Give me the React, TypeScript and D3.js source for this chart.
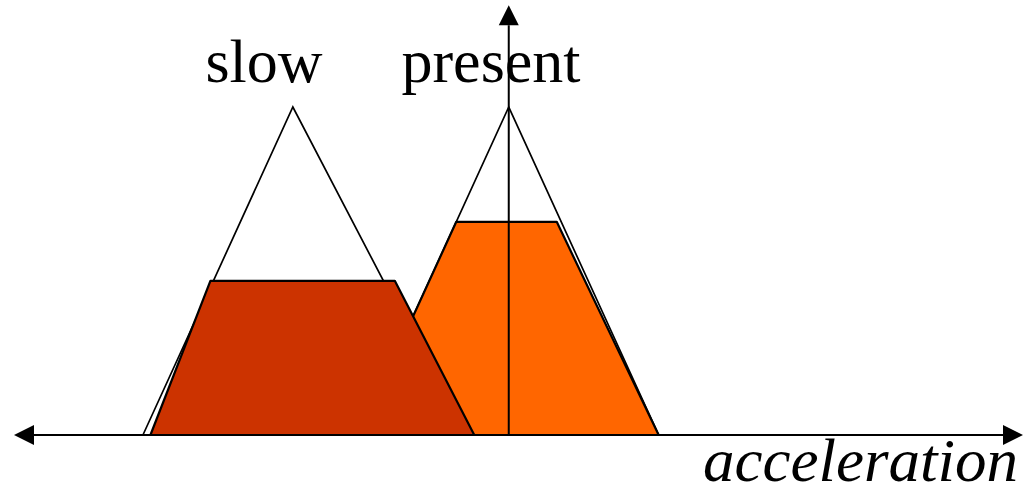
import React from "react";
import * as d3 from "d3";

// membership functions, x in acceleration units (0 = vertical axis), y in membership degree
const slowTriangle: [number, number][] = [[-2.44, 0], [-1.44, 1], [-0.3, 0]];
const presentTriangle: [number, number][] = [[-1.0, 0], [0, 1], [1.0, 0]];
const slowClipped: [number, number][] = [[-2.39, 0], [-1.99, 0.47], [-0.76, 0.47], [-0.23, 0]];
const presentClipped: [number, number][] = [[-1.0, 0], [-0.35, 0.65], [0.32, 0.65], [1.0, 0]];

const labels = ["slow", "present"];
const axisLabel = "acceleration";

const W = 1025;
const H = 495;

const x = d3.scaleLinear().domain([-3.3, 3.43]).range([14, 1023]);
const y = d3.scaleLinear().domain([0, 1]).range([435, 107]);

const line = d3
  .line<[number, number]>()
  .x((d) => x(d[0]))
  .y((d) => y(d[1]));

const FONT = "'Liberation Serif', 'Times New Roman', serif";

export default function App() {
  const y0 = y(0);
  const x0 = x(0);
  const xMin = x.range()[0];
  const xMax = x.range()[1];
  const yTop = y(1.31);
  const ah = 20; // arrow head length
  const aw = 10; // arrow head half width

  return (
    <svg
      width={W}
      height={H}
      style={{ position: "absolute", left: 0, top: 0, display: "block", background: "#fff" }}
    >
      {/* triangle outlines */}
      <path d={line(slowTriangle) || ""} fill="none" stroke="#000" strokeWidth={1.7} />
      <path d={line(presentTriangle) || ""} fill="none" stroke="#000" strokeWidth={1.7} />

      {/* horizontal axis */}
      <line x1={xMin + ah} x2={xMax - ah} y1={y0} y2={y0} stroke="#000" strokeWidth={2} />
      <path d={`M${xMin},${y0}L${xMin + ah},${y0 - aw}L${xMin + ah},${y0 + aw}Z`} fill="#000" />
      <path d={`M${xMax},${y0}L${xMax - ah},${y0 - aw}L${xMax - ah},${y0 + aw}Z`} fill="#000" />

      {/* clipped outputs */}
      <path d={line(presentClipped) + "Z"} fill="#FF6600" stroke="#000" strokeWidth={2.2} strokeLinejoin="round" />
      <path d={line(slowClipped) + "Z"} fill="#CC3300" stroke="#000" strokeWidth={2.2} strokeLinejoin="round" />

      {/* labels */}
      <text x={264} y={82} fontFamily={FONT} fontSize={62} textAnchor="middle" fill="#000">
        {labels[0]}
      </text>
      <text x={491} y={82} fontFamily={FONT} fontSize={62} textAnchor="middle" fill="#000">
        {labels[1]}
      </text>
      <text
        x={703}
        y={481}
        fontFamily={FONT}
        fontSize={61}
        fontStyle="italic"
        textLength={315}
        lengthAdjust="spacingAndGlyphs"
        fill="#000"
      >
        {axisLabel}
      </text>

      {/* vertical axis */}
      <line x1={x0} x2={x0} y1={y0} y2={yTop + ah} stroke="#000" strokeWidth={2} />
      <path d={`M${x0},${yTop}L${x0 - aw},${yTop + ah}L${x0 + aw},${yTop + ah}Z`} fill="#000" />
    </svg>
  );
}
